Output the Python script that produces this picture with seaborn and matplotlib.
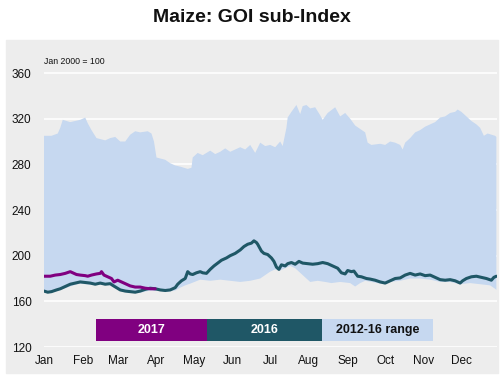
import numpy as np
import pandas as pd
import matplotlib
matplotlib.use("Agg")
import matplotlib.pyplot as plt
import seaborn as sns
from matplotlib.patches import Rectangle

# ── DATA (x = day of year, y = index, Jan 2000 = 100) ───────
month_labels = ["Jan", "Feb", "Mar", "Apr", "May", "Jun",
                "Jul", "Aug", "Sep", "Oct", "Nov", "Dec"]
month_starts = [0, 31, 59, 90, 120, 151, 181, 212, 243, 273, 304, 334]
y_ticks = [120, 160, 200, 240, 280, 320, 360]

range_hi_days = [0, 6, 11, 13, 15, 21, 25, 29, 33, 35, 38, 42, 49, 53, 57, 61,
                 65, 69, 73, 77, 83, 86, 88, 90, 97, 101, 105, 109, 115, 118,
                 119, 123, 127, 133, 137, 141, 145, 149, 153, 157, 161, 165,
                 169, 173, 177, 181, 185, 189, 191, 194, 195, 198, 202, 205,
                 207, 210, 213, 217, 221, 223, 227, 233, 237, 241, 245, 249,
                 253, 257, 259, 262, 269, 273, 277, 281, 285, 287, 289, 293,
                 297, 301, 305, 309, 313, 317, 321, 325, 329, 331, 334, 339,
                 342, 346, 349, 352, 355, 358, 361, 362]
range_hi = [305, 305, 307, 312, 319, 317, 318, 319, 321, 316, 310, 303, 301,
            303, 304, 300, 300, 306, 309, 308, 309, 307, 300, 286, 284, 281,
            279, 278, 276, 277, 286, 290, 288, 292, 289, 291, 294, 291, 293,
            295, 293, 297, 290, 299, 296, 297, 295, 300, 296, 312, 321, 326,
            332, 324, 331, 332, 329, 330, 323, 319, 325, 330, 322, 325, 320,
            314, 311, 308, 299, 297, 298, 297, 300, 299, 297, 293, 299, 303,
            308, 310, 313, 315, 317, 321, 322, 325, 326, 328, 326, 321, 318,
            315, 312, 305, 307, 306, 305, 304]

range_lo_days = [0, 5, 9, 17, 25, 29, 37, 45, 53, 57, 61, 67, 77, 85, 93, 99,
                 105, 109, 113, 117, 125, 133, 141, 149, 157, 165, 173, 177,
                 181, 185, 189, 191, 197, 201, 205, 209, 213, 219, 225, 230,
                 237, 245, 249, 253, 257, 262, 269, 273, 277, 285, 293, 301,
                 309, 317, 325, 333, 341, 349, 357, 361, 362]
range_lo = [168, 167.5, 168.5, 171.5, 174.5, 175.5, 174.5, 174.5, 174, 171.5,
            169, 167.5, 167.5, 169.5, 169, 168.5, 169.5, 172, 174, 175.5, 179,
            178, 179, 178, 177, 178, 180, 183, 186, 188, 187, 188, 191, 189,
            185, 181, 177, 178, 177, 176, 177, 176, 173, 176, 178, 177, 175.5,
            175, 177, 178, 180, 180, 179, 177, 177, 175, 176, 175, 174, 171,
            170]

y2016_days = [0, 3, 6, 10, 13, 17, 21, 25, 29, 33, 37, 41, 45, 49, 53, 55, 58,
              61, 65, 69, 73, 77, 81, 85, 89, 93, 97, 101, 105, 107, 110, 113,
              115, 117, 119, 122, 125, 127, 130, 133, 136, 139, 142, 146, 149,
              153, 157, 160, 163, 166, 168, 170, 171, 174, 176, 179, 182, 184,
              186, 188, 190, 193, 195, 198, 201, 204, 207, 211, 215, 219, 223,
              227, 231, 235, 238, 241, 243, 246, 248, 251, 254, 258, 261, 265,
              269, 273, 277, 281, 285, 289, 293, 297, 301, 305, 309, 313, 317,
              321, 325, 329, 333, 335, 338, 342, 346, 350, 354, 358, 360, 362]
y2016 = [169, 168, 168.5, 170, 171, 173, 175, 176, 177, 176.5, 176, 175, 176,
         175, 175.5, 174, 172, 170, 169, 168.5, 168, 169, 170.5, 171.5, 171,
         170, 169.5, 170, 172, 175, 178, 180, 186, 184, 183.5, 185, 186, 185,
         184.5, 188, 191, 193.5, 196, 198, 200, 202, 205, 208, 210, 211, 213,
         211.5, 210, 204, 202, 201, 198, 195, 190, 188, 192, 191, 193, 194,
         192.5, 195, 193.5, 193, 192.5, 193, 194, 193, 191, 189, 185, 184, 187,
         186, 186.5, 182, 181.5, 180, 179.5, 178.5, 177, 176, 178, 180, 180.5,
         183, 184.5, 183, 184, 182.5, 183, 181, 179, 178.5, 179, 178, 176, 178,
         180, 181.5, 182, 181, 180, 178.5, 181, 182]

y2017_days = [0, 5, 9, 13, 17, 21, 23, 26, 29, 33, 35, 38, 42, 45, 46, 48, 51,
              54, 56, 59, 62, 66, 69, 73, 77, 81, 85, 89]
y2017 = [182, 182, 183, 183.5, 184.5, 186, 185, 183.5, 183, 182.5, 182, 183,
         184, 184.5, 186, 183, 181.5, 180, 177, 178.5, 177, 175, 173.5, 172.5,
         172.5, 171.5, 171, 171]

# ── STYLE ───────────────────────────────────────────────────
C2017 = "#800080"
C2016 = "#1f5766"
CRANGE = "#c6d8f0"
PANEL = "#ededed"

sns.set_theme(style="white", rc={"axes.facecolor": PANEL})
plt.rcParams["font.family"] = ["Liberation Sans", "DejaVu Sans"]

fig = plt.figure(figsize=(5.04, 3.79), dpi=100)
fig.patches.append(Rectangle((6 / 504, 6 / 379), 492 / 504, 333 / 379,
                             transform=fig.transFigure, color=PANEL,
                             zorder=-10))
ax = fig.add_axes([44 / 504, 32 / 379, 453 / 504, 285.4 / 379])
ax.set_zorder(2)

# range band
band_x = np.concatenate([range_hi_days, range_lo_days[::-1]])
band_y = np.concatenate([range_hi, range_lo[::-1]])
ax.fill(band_x, band_y, color=CRANGE, lw=0, zorder=1)

df16 = pd.DataFrame({"day": y2016_days, "val": y2016})
df17 = pd.DataFrame({"day": y2017_days, "val": y2017})
sns.lineplot(data=df16, x="day", y="val", color=C2016, lw=2.2, ax=ax, zorder=3)
sns.lineplot(data=df17, x="day", y="val", color=C2017, lw=2.2, ax=ax, zorder=4)

ax.set_xlim(0, 362.5)
ax.set_ylim(120, 370)
ax.set_yticks(y_ticks)
ax.set_xticks(month_starts)
ax.set_xticklabels(month_labels)
ax.set_xlabel("")
ax.set_ylabel("")
ax.grid(axis="y", color="white", lw=1.2, zorder=0)
ax.set_axisbelow(True)
ax.tick_params(axis="both", length=0, labelsize=8.5, colors="#111111")
ax.tick_params(axis="y", pad=9)
ax.tick_params(axis="x", pad=6)
for s in ax.spines.values():
    s.set_visible(False)

ax.text(0, 1.0, "Jan 2000 = 100", transform=ax.transAxes, fontsize=6.3,
        ha="left", va="center", color="#111111")

# legend boxes
legend_items = [("2017", C2017, "white"), ("2016", C2016, "white"),
                ("2012-16 range", CRANGE, "#111111")]
edges = [0.115, 0.360, 0.614, 0.859]
for i, (lab, fc, tc) in enumerate(legend_items):
    ax.add_patch(Rectangle((edges[i], 0.021), edges[i + 1] - edges[i], 0.077,
                           transform=ax.transAxes, color=fc, lw=0, zorder=5))
    ax.text((edges[i] + edges[i + 1]) / 2, 0.0595, lab, transform=ax.transAxes,
            ha="center", va="center", fontsize=9, fontweight="bold",
            color=tc, zorder=6)

fig.text(0.5, 1 - 17 / 379, "Maize: GOI sub-Index", ha="center", va="center",
         fontsize=14, fontweight="bold", color="#111111")

fig.savefig("out.png", dpi=100)
